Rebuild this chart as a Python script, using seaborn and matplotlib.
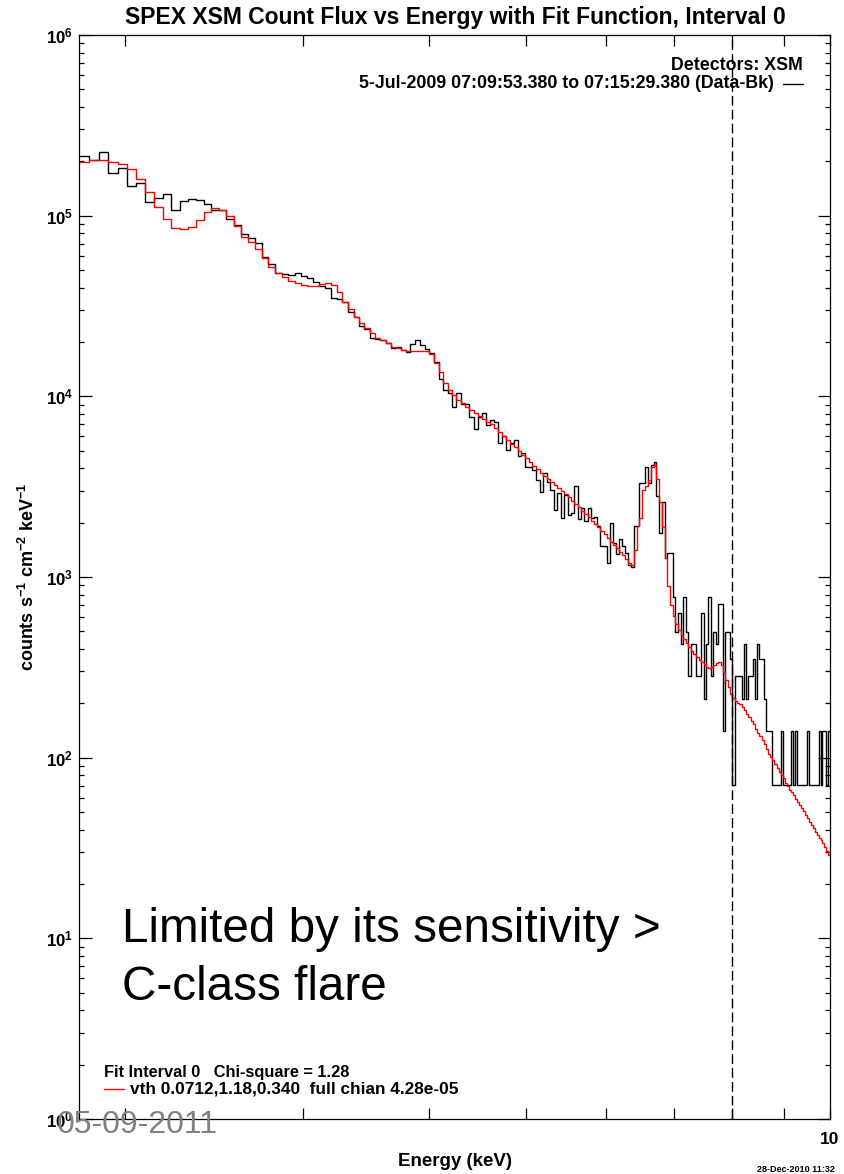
import numpy as np
import pandas as pd
import matplotlib
matplotlib.use("Agg")
import matplotlib.pyplot as plt
import matplotlib.ticker as mticker
import matplotlib.transforms as mtransforms
import seaborn as sns

# energy binning of the spectrum (keV)
bin_start = 1.797
bin_width = 0.0425

# background-subtracted count flux, one value per energy bin
data_flux = [
    2.14e5, 2.02e5, 2.24e5, 1.73e5, 1.83e5, 1.46e5, 1.51e5, 1.19e5, 1.25e5, 1.31e5,
    1.07e5, 1.20e5, 1.24e5, 1.22e5, 1.16e5, 1.08e5, 1.08e5, 9.63e4, 8.85e4, 7.89e4,
    7.53e4, 7.04e4, 5.89e4, 5.38e4, 4.84e4, 4.74e4, 4.70e4, 4.80e4, 4.64e4, 4.50e4,
    4.31e4, 4.08e4, 4.00e4, 3.49e4, 3.45e4, 3.34e4, 2.94e4, 2.74e4, 2.45e4, 2.35e4,
    2.10e4, 2.07e4, 2.05e4, 1.98e4, 1.85e4, 1.88e4, 1.81e4, 1.77e4, 1.95e4, 2.05e4,
    1.92e4, 1.82e4, 1.73e4, 1.54e4, 1.24e4, 1.08e4, 1.04e4, 8.77e3, 1.04e4, 9.08e3,
    9.08e3, 7.66e3, 6.60e3, 7.66e3, 8.06e3, 6.95e3, 7.40e3, 7.24e3, 5.54e3, 6.04e3,
    5.05e3, 5.50e3, 5.74e3, 4.68e3, 4.84e3, 4.08e3, 4.08e3, 3.91e3, 3.45e3, 2.97e3,
    3.75e3, 3.37e3, 3.03e3, 2.35e3, 2.91e3, 2.12e3, 2.85e3, 2.21e3, 2.25e3, 3.17e3,
    2.09e3, 2.40e3, 2.03e3, 2.40e3, 2.12e3, 2.16e3, 1.92e3, 1.49e3, 1.49e3, 1.20e3,
    1.99e3, 1.54e3, 1.34e3, 1.62e3, 1.49e3, 1.36e3, 1.17e3, 1.14e3, 1.92e3, 1.92e3,
    3.32e3, 3.32e3, 4.07e3, 3.32e3, 4.17e3, 4.34e3, 2.81e3, 1.75e3, 2.60e3, 1.28e3,
    1.36e3, 1.36e3, 778, 495, 636, 424, 778, 495, 283, 424,
    424, 283, 283, 636, 212, 424, 778, 283, 495, 424,
    707, 707, 141, 495, 495, 353, 70.7, 283, 283, 283,
    212, 424, 212, 283, 283, 353, 212, 424, 353, 353,
    212, 141, 141, 141, 70.7, 70.7, 70.7, 70.7, 141, 70.7,
    70.7, 70.7, 70.7, 141, 70.7, 141, 70.7, 70.7, 70.7, 70.7,
    70.7, 141, 70.7, 70.7, 70.7, 70.7, 70.7, 141, 70.7, 141,
    141, 70.7, 141,
]

# fitted thermal (vth) model, same bins
model_flux = [
    1.97e5, 2.03e5, 2.04e5, 1.99e5, 1.93e5, 1.81e5, 1.59e5, 1.35e5, 1.12e5, 9.55e4,
    8.58e4, 8.41e4, 8.69e4, 9.47e4, 1.05e5, 1.10e5, 1.08e5, 9.96e4, 8.77e4, 7.65e4,
    7.15e4, 6.52e4, 5.81e4, 5.22e4, 4.84e4, 4.56e4, 4.37e4, 4.23e4, 4.14e4, 4.08e4,
    4.10e4, 4.17e4, 4.23e4, 4.14e4, 3.80e4, 3.34e4, 3.05e4, 2.76e4, 2.54e4, 2.38e4,
    2.24e4, 2.11e4, 2.05e4, 1.98e4, 1.87e4, 1.85e4, 1.81e4, 1.78e4, 1.78e4, 1.79e4,
    1.79e4, 1.79e4, 1.72e4, 1.53e4, 1.37e4, 1.19e4, 1.08e4, 1.02e4, 9.55e3, 9.16e3,
    8.70e3, 8.41e3, 8.12e3, 7.79e3, 7.47e3, 7.24e3, 7.04e3, 6.66e3, 6.38e3, 6.04e3,
    5.74e3, 5.45e3, 5.23e3, 5.01e3, 4.74e3, 4.54e3, 4.35e3, 4.12e3, 3.95e3, 3.75e3,
    3.63e3, 3.47e3, 3.36e3, 3.23e3, 3.11e3, 3.00e3, 2.88e3, 2.76e3, 2.64e3, 2.54e3,
    2.43e3, 2.32e3, 2.23e3, 2.14e3, 2.05e3, 1.97e3, 1.88e3, 1.80e3, 1.72e3, 1.65e3,
    1.57e3, 1.51e3, 1.44e3, 1.38e3, 1.32e3, 1.26e3, 1.20e3, 1.16e3, 1.41e3, 1.92e3,
    2.12e3, 3.03e3, 3.19e3, 3.45e3, 4.07e3, 4.17e3, 3.49e3, 2.60e3, 1.89e3, 1.28e3,
    893, 701, 609, 550, 510, 478, 454, 432, 410, 390,
    375, 361, 348, 339, 330, 318, 314, 318, 326, 335,
    339, 326, 298, 270, 247, 225, 214, 206, 201, 199,
    191, 184, 175, 168, 160, 154, 144, 137, 132, 125,
    119, 112, 105, 101, 97.2, 92.4, 87.8, 83.4, 80.3, 77.3,
    72.5, 69.8, 66.3, 64.7, 62.2, 59.2, 56.9, 54.8, 52.8, 50.8,
    48.3, 46.4, 44.1, 42.5, 40.9, 38.8, 37.4, 36.0, 35.1, 33.8,
    32.1, 30.5, 29.0,
]

upper_fit_limit = 8.0
x_minor_ticks = [2, 3, 4, 5, 6, 7, 8, 9]

title = "SPEX XSM Count Flux vs Energy with Fit Function, Interval 0"
detectors_text = "Detectors: XSM"
interval_text = "5-Jul-2009 07:09:53.380 to 07:15:29.380 (Data-Bk)"
fit_text = "Fit Interval 0   Chi-square = 1.28"
func_text = "vth 0.0712,1.18,0.340  full chian 4.28e-05"
note_lines = ["Limited by its sensitivity >", "C-class flare"]
date_stamp = "05-09-2011"
plot_stamp = "28-Dec-2010 11:32"

sns.set_style("ticks")
plt.rcParams["font.family"] = ["Liberation Sans", "DejaVu Sans"]
plt.rcParams["mathtext.fontset"] = "custom"
plt.rcParams["mathtext.rm"] = "Liberation Sans"
plt.rcParams["mathtext.bf"] = "Liberation Sans:bold"
plt.rcParams["mathtext.it"] = "Liberation Sans:italic"
for key in ["text.color", "axes.labelcolor", "xtick.color", "ytick.color", "axes.edgecolor"]:
    plt.rcParams[key] = "black"

W, H = 845, 1174


def fx(x):
    return x / W


def fy(y):
    return 1 - y / H


# pixel coordinates measured from the top-left corner
pix = mtransforms.Affine2D().scale(1, -1).translate(0, H)

n = len(data_flux)
edges = bin_start + bin_width * np.arange(n + 1)
df = pd.DataFrame({
    "energy": np.concatenate([edges, edges]),
    "flux": data_flux + [data_flux[-1]] + model_flux + [model_flux[-1]],
    "series": ["data"] * (n + 1) + ["model"] * (n + 1),
})

fig = plt.figure(figsize=(W / 100, H / 100), dpi=100)
ax = fig.add_axes([fx(79), fy(1119), (830 - 79) / W, (1119 - 35) / H])
sns.lineplot(data=df, x="energy", y="flux", hue="series",
             palette={"data": "black", "model": "red"},
             estimator=None, sort=False, drawstyle="steps-post",
             linewidth=1.0, legend=False, ax=ax)
ax.axvline(upper_fit_limit, color="black", linewidth=1.0, dashes=(7, 3))

ax.set_xscale("log")
ax.set_yscale("log")
ax.set_xlim(1.8, 10)
ax.set_ylim(1, 1e6)
ax.set_xlabel("")
ax.set_ylabel("")

ax.xaxis.set_major_locator(mticker.FixedLocator([10]))
ax.xaxis.set_major_formatter(mticker.FixedFormatter(["10"]))
ax.xaxis.set_minor_locator(mticker.FixedLocator(x_minor_ticks))
ax.xaxis.set_minor_formatter(mticker.NullFormatter())

ydec = [10.0 ** k for k in range(7)]
ax.yaxis.set_major_locator(mticker.FixedLocator(ydec))
ax.yaxis.set_major_formatter(
    mticker.FixedFormatter([r"$\mathbf{10^{%d}}$" % k for k in range(7)]))
ax.yaxis.set_minor_locator(mticker.LogLocator(base=10, subs=np.arange(2, 10), numticks=20))
ax.yaxis.set_minor_formatter(mticker.NullFormatter())

ax.tick_params(which="both", direction="in", top=True, right=True,
               width=0.9, color="black")
ax.tick_params(axis="y", which="major", length=9, pad=4, labelsize=12.2)
ax.tick_params(axis="y", which="minor", length=3.5)
ax.tick_params(axis="x", which="both", length=8, pad=9, labelsize=12.5)
for lab in ax.get_xticklabels():
    lab.set_fontweight("bold")
for sp in ax.spines.values():
    sp.set_linewidth(0.9)
    sp.set_color("black")

fig.text(fx(455), fy(24), title, ha="center", va="baseline",
         fontsize=16.5, fontweight="bold")
fig.text(fx(28), fy(577), r"counts s$^{\mathbf{-1}}$ cm$^{\mathbf{-2}}$ keV$^{\mathbf{-1}}$",
         rotation=90, ha="center", va="center", fontsize=13, fontweight="bold")
fig.text(fx(455), fy(1166), "Energy (keV)", ha="center", va="baseline",
         fontsize=13.5, fontweight="bold")

fig.text(fx(803), fy(66), detectors_text, ha="right", va="center",
         fontsize=12.8, fontweight="bold")
fig.text(fx(774), fy(84), interval_text, ha="right", va="center",
         fontsize=12.8, fontweight="bold")
ax.plot([783, 803], [84, 84], color="black", linewidth=1.0,
        transform=pix, clip_on=False)

fig.text(fx(104), fy(1072), fit_text, ha="left", va="center",
         fontsize=11.8, fontweight="bold")
ax.plot([104, 124], [1089, 1089], color="red", linewidth=1.0,
        transform=pix, clip_on=False)
fig.text(fx(130), fy(1089), func_text, ha="left", va="center",
         fontsize=12.4, fontweight="bold")

fig.text(fx(122), fy(942), note_lines[0], ha="left", va="baseline", fontsize=34.3)
fig.text(fx(122), fy(1000), note_lines[1], ha="left", va="baseline", fontsize=34.3)
fig.text(fx(57), fy(1133), date_stamp, ha="left", va="baseline",
         fontsize=23, color="#808080")
fig.text(fx(757), fy(1172), plot_stamp, ha="left", va="baseline",
         fontsize=6.5, fontweight="bold")

fig.savefig("out.png", dpi=100)
